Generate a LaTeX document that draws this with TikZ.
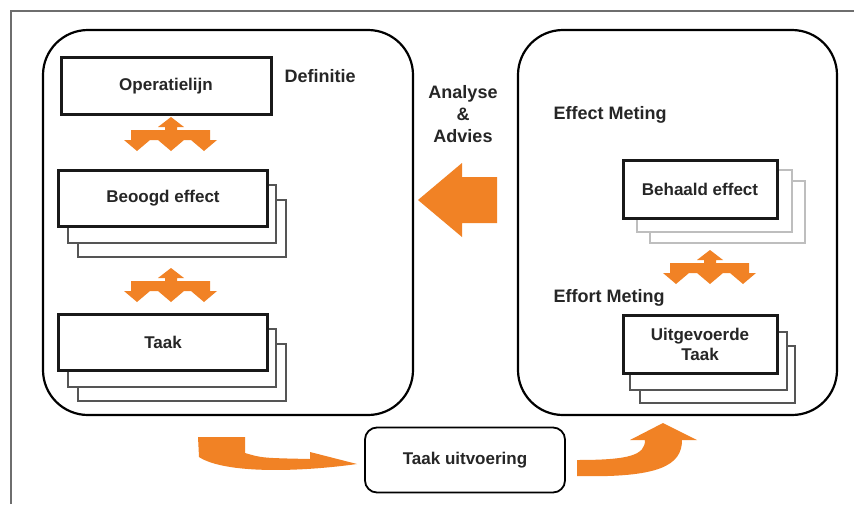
\documentclass[tikz,border=0pt]{standalone}
\usepackage{fontspec}
\setmainfont{Liberation Sans}
\definecolor{arrorange}{RGB}{241,130,37}
\definecolor{framegray}{RGB}{110,110,110}
\definecolor{shadowdark}{RGB}{85,85,85}
\definecolor{shadowlight}{RGB}{190,190,190}
\tikzset{
  lbl/.style={font=\fontsize{17}{20}\selectfont\bfseries, text=black!85},
  head/.style={font=\fontsize{18}{21}\selectfont\bfseries, text=black!85},
  frontbox/.style={draw=black!90, line width=3pt, fill=white},
  shadowbox/.style={draw=shadowdark, line width=1.4pt, fill=white},
  lightshadow/.style={draw=shadowlight, line width=1.2pt, fill=white},
  bigpanel/.style={draw=black, line width=2.2pt, rounded corners=45pt},
  orangefill/.style={fill=arrorange},
  crossarrow/.pic={
    \fill[orangefill] (0,-18) -- (13,-8) -- (6,-8) -- (6,-5) -- (39,-5)
      -- (39,5) -- (46,5) -- (33,16) -- (20,5) -- (13,5)
      -- (0,16) -- (-13,5) -- (-21,5)
      -- (-34,16) -- (-47,5) -- (-40,5) -- (-40,-5) -- (-6,-5) -- (-6,-8)
      -- (-13,-8) -- cycle;
  }
}
\begin{document}
\begin{tikzpicture}[x=1pt,y=-1pt]
\useasboundingbox (0,0) rectangle (854,504);
\fill[white] (0,0) rectangle (854,504);
% outer frame (left and top edges)
\draw[framegray, line width=1.8pt] (11,504) -- (11,11) -- (854,11);

% panels
\draw[bigpanel] (43,30) rectangle (413,415);
\draw[bigpanel] (518,30) rectangle (837,415);

% Operatielijn
\node[frontbox, minimum width=210pt, minimum height=57pt, inner sep=0pt] (op) at (166,86) {};
\node[lbl] (optxt) at (op.center) {Operatielijn};
\node[head, anchor=west] (def) at (281,76) {Definitie};

% Beoogd effect stack
\draw[shadowbox] (78,200) rectangle (286,257);
\draw[shadowbox] (68,185) rectangle (276,243);
\node[frontbox, minimum width=209pt, minimum height=56pt, inner sep=0pt] (be) at (163,198) {};
\node[lbl] (betxt) at (be.center) {Beoogd effect};

% Taak stack
\draw[shadowbox] (78,344) rectangle (286,401);
\draw[shadowbox] (68,329) rectangle (276,387);
\node[frontbox, minimum width=209pt, minimum height=56pt, inner sep=0pt] (tk) at (163,342) {};
\node[lbl] (tktxt) at (tk.center) {Taak};

% cross arrows
\pic at (171,135) {crossarrow};
\pic at (171,286) {crossarrow};
\pic at (710,268) {crossarrow};

% Analyse & Advies
\node[head, align=center, inner sep=0pt] (aa) at (463,114) {Analyse\\[1pt]\&\\[1pt]Advies};

% big left arrow
\fill[orangefill] (418,200) -- (462,163) -- (462,177) -- (497,177) -- (497,223)
  -- (462,223) -- (462,237) -- cycle;

% right panel
\node[head, anchor=west] (em) at (550,115) {Effect Meting};
\draw[lightshadow] (650,181) rectangle (805,243);
\draw[lightshadow] (637,170) rectangle (792,232);
\node[frontbox, minimum width=154pt, minimum height=58pt, inner sep=0pt] (bh) at (700,189) {};
\node[lbl] (bhtxt) at (bh.center) {Behaald effect};

\node[head, anchor=west] (efm) at (550,298) {Effort Meting};
\draw[shadowbox] (640,346) rectangle (795,403);
\draw[shadowbox] (630,332) rectangle (787,390);
\node[frontbox, minimum width=154pt, minimum height=58pt, inner sep=0pt] (ut) at (700,344) {};
\node[lbl, align=center] (uttxt) at (ut.center) {Uitgevoerde\\Taak};

% Taak uitvoering
\node[draw=black, line width=1.8pt, rounded corners=12pt, minimum width=200pt,
      minimum height=65pt, inner sep=0pt, fill=white] (tu) at (465,460) {};
\node[lbl] (tutxt) at (tu.center) {Taak uitvoering};

% curved arrows
\fill[orangefill] (198,437) -- (245,437) -- (245,453)
  .. controls (262,458) .. (310,459) -- (310,452) -- (357,464)
  .. controls (300,472) and (225,474) .. (199,457) -- cycle;
\fill[orangefill] (577,460) -- (577,476)
  .. controls (660,478) and (682,465) .. (682,440) -- (697,440) -- (663,423)
  -- (630,440) -- (645,440) .. controls (645,455) and (630,460) .. (577,460) -- cycle;
\end{tikzpicture}
\end{document}
